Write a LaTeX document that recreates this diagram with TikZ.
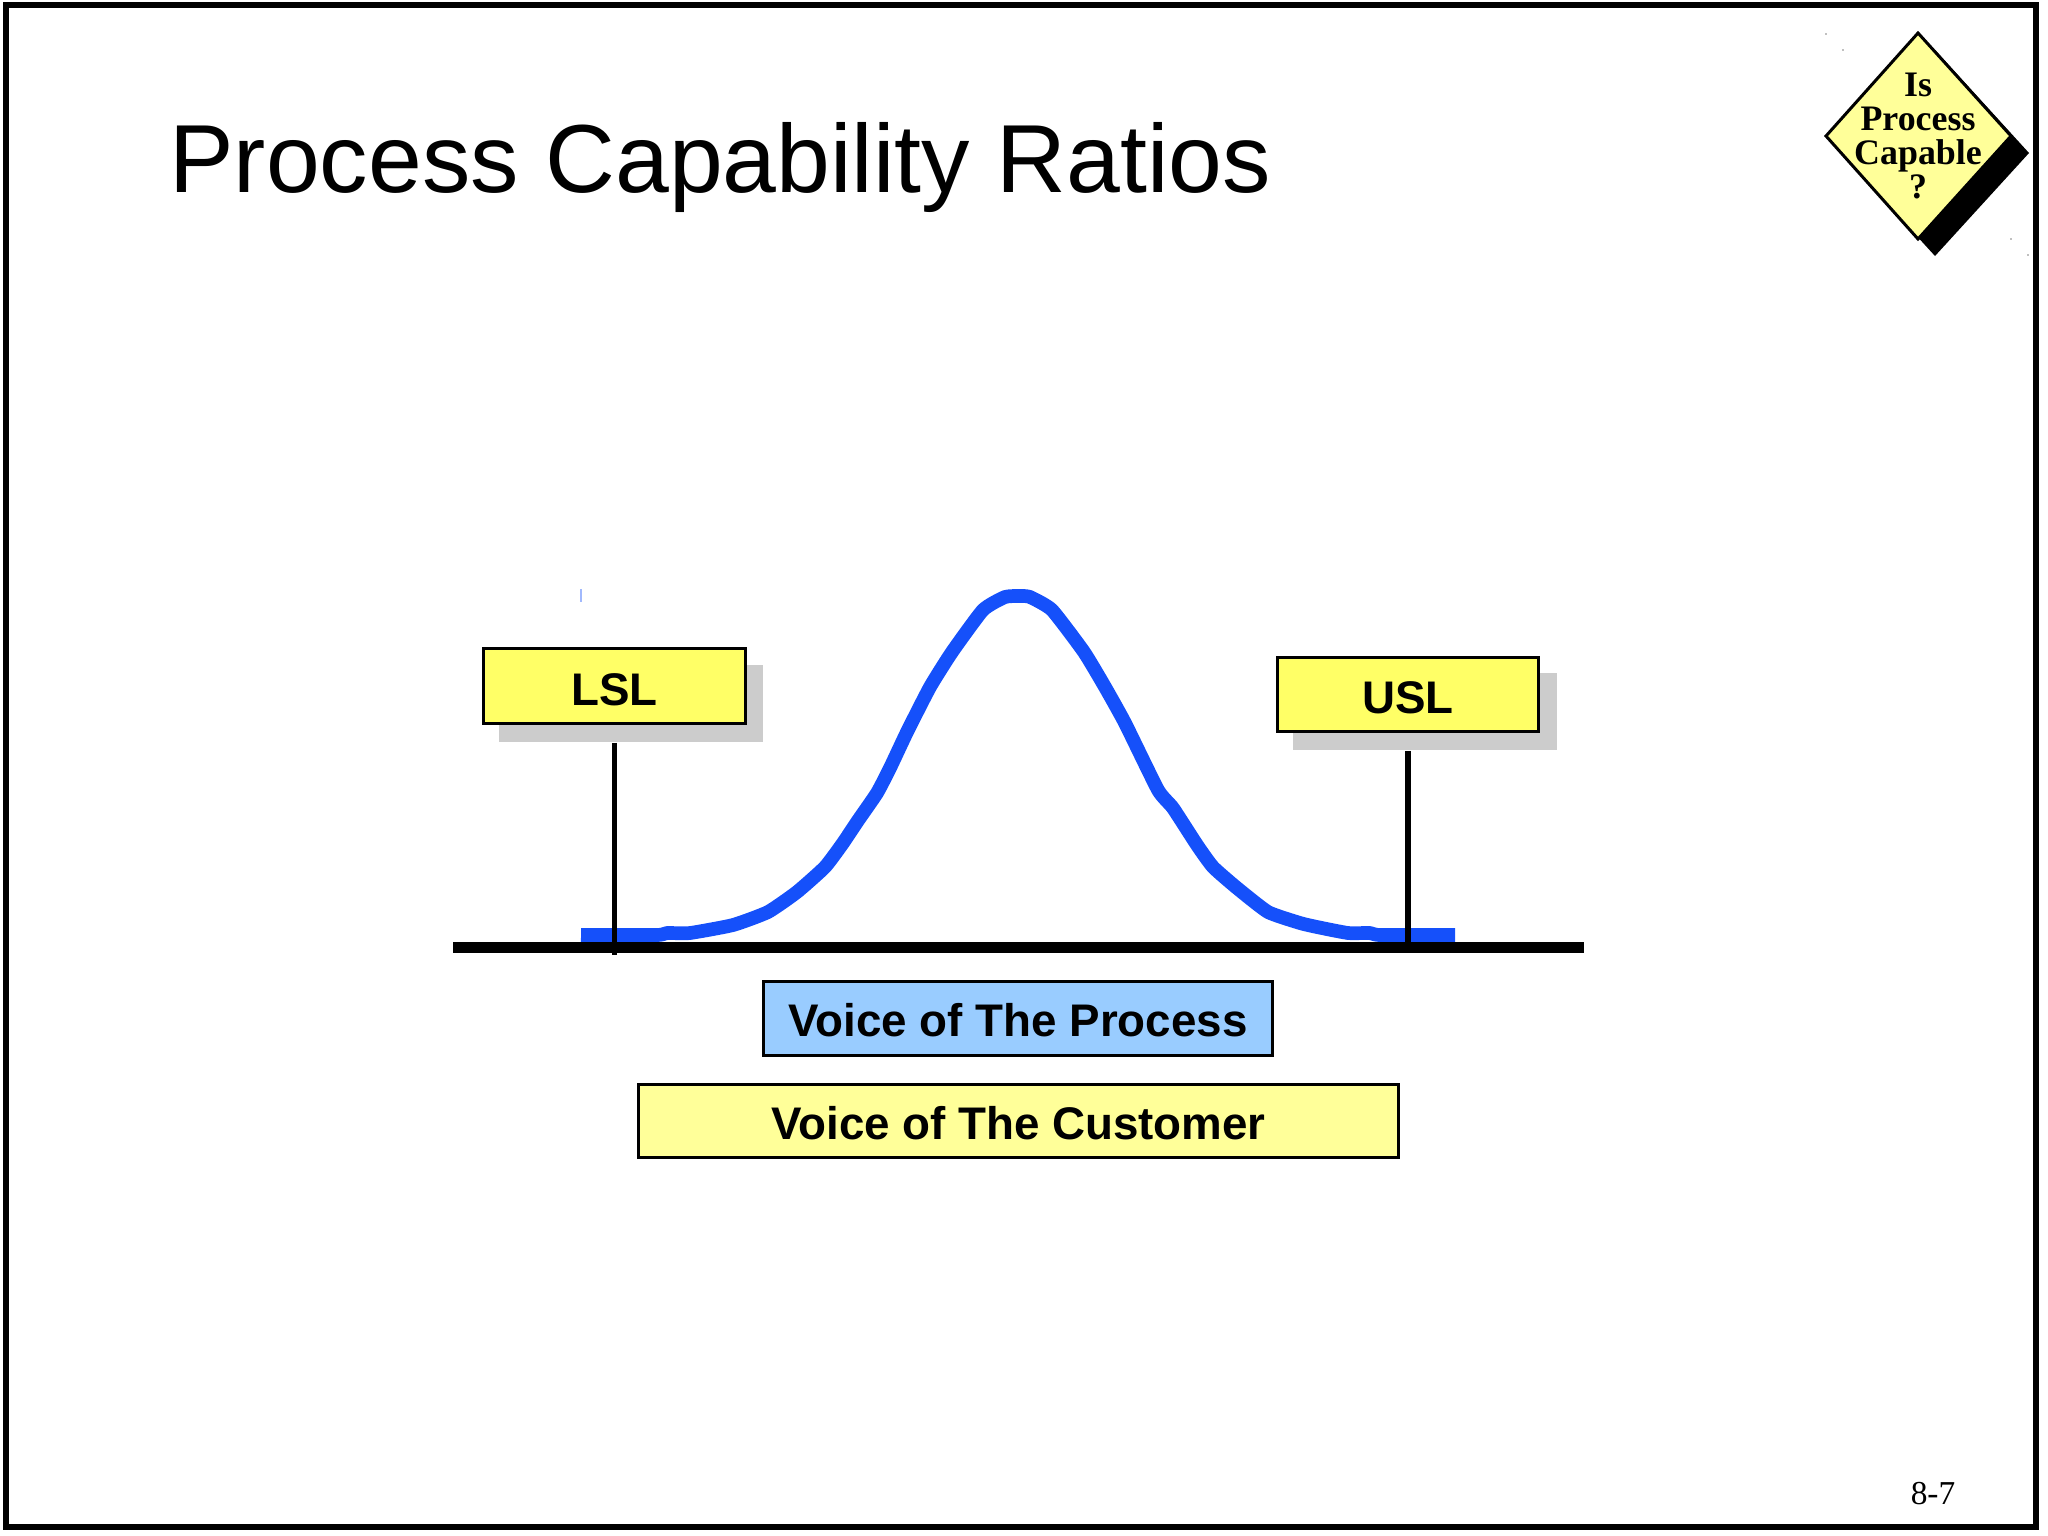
\documentclass[tikz,border=0pt]{standalone}
\usepackage{fontspec}
\setmainfont{Liberation Sans}
\newfontfamily\badgefont{Liberation Serif}
\usepackage{xcolor}
\definecolor{limitfill}{HTML}{FFFF66}
\definecolor{paleyellow}{HTML}{FFFF99}
\definecolor{processblue}{HTML}{99CCFF}
\definecolor{curveblue}{HTML}{1550FA}
\definecolor{shadowgray}{HTML}{CCCCCC}
\tikzset{
    labelbox/.style={draw=black,line width=0.85pt,inner sep=0pt,text depth=0pt,font=\fontsize{13}{15}\selectfont\bfseries},
    limitbox/.style={labelbox,fill=limitfill,minimum width=74.3pt,minimum height=21.3pt,text height=10.9pt},
    voicebox/.style={labelbox,minimum height=21pt,text height=10.4pt},
    shadowbox/.style={fill=shadowgray,inner sep=0pt,minimum width=75pt,minimum height=22pt},
    limitline/.style={line width=1.45pt}
}

\begin{document}
\begin{tikzpicture}[x=0.01cm,y=-0.01cm]
        \useasboundingbox (0,0) rectangle (2048,1536);
        \draw[line width=1.7pt] (6,5) rectangle (2036,1527);

        \node[anchor=base west,font=\fontsize{27.5}{30}\selectfont] (title) at (157,192) {Process Capability Ratios};

        % badge
        \fill (1935,50) -- (2029,153) -- (1935,256) -- (1841,153) -- cycle;
        \draw[fill=paleyellow,line width=0.85pt] (1918,33) -- (2011,136) -- (1918,239) -- (1826,136) -- cycle;
        \node[align=center,inner sep=0pt,font=\badgefont\bfseries\fontsize{10.2}{9.7}\selectfont] (badge) at (1918,136) {Is\\Process\\Capable\\?};
        \foreach \sx/\sy in {1826/34,1843/50,2011/239,2028/255}
            \fill[gray] (\sx,\sy) circle (0.8);

        % curve and base line
        \draw[curveblue,line width=3.9pt,line join=round] plot[smooth,tension=0.3] coordinates {(581,935) (657,935) (667,933) (690,933) (733,925) (768,912) (797,892) (825,867) (843,843) (857,822) (877,793) (890,768) (907,732) (930,687) (952,652) (983,610) (1005,597) (1020,596) (1030,597) (1052,610) (1084,652) (1105,687) (1125,723) (1158,790) (1173,808) (1197,845) (1213,867) (1237,888) (1268,912) (1300,923) (1317,927) (1348,933) (1370,933) (1380,935) (1455,935)};
        \draw[curveblue!40,line width=0.3pt] (581,589) -- (581,602);
        \coordinate (axisleft) at (453,947.5);
        \coordinate (axisright) at (1584,947.5);
        \draw[line width=3.1pt] (axisleft) -- (axisright);

        % limits
        \node[shadowbox] (lslshadow) at (631,703.5) {};
        \node[limitbox] (lsl) at (614.5,686) {LSL};
        \node[shadowbox] (uslshadow) at (1425,711.5) {};
        \node[limitbox] (usl) at (1408,694.5) {USL};
        \coordinate (lslfoot) at (614.5,955);
        \coordinate (uslfoot) at (1414,947);
        \draw[limitline] (lsl.south |- lslshadow.south) -- (lslfoot);
        \draw[limitline] (usl.south |- uslshadow.south) -- (usl.south |- uslfoot);

        % voices
        \node[voicebox,fill=processblue,minimum width=145pt] (process) at (1018,1018.5) {Voice of The Process};
        \node[voicebox,fill=paleyellow,minimum width=216pt] (customer) at (1018.5,1121) {Voice of The Customer};

        \node[font=\badgefont\fontsize{9.5}{11}\selectfont] (pagenum) at (1933,1494) {8-7};
    \end{tikzpicture}
\end{document}
